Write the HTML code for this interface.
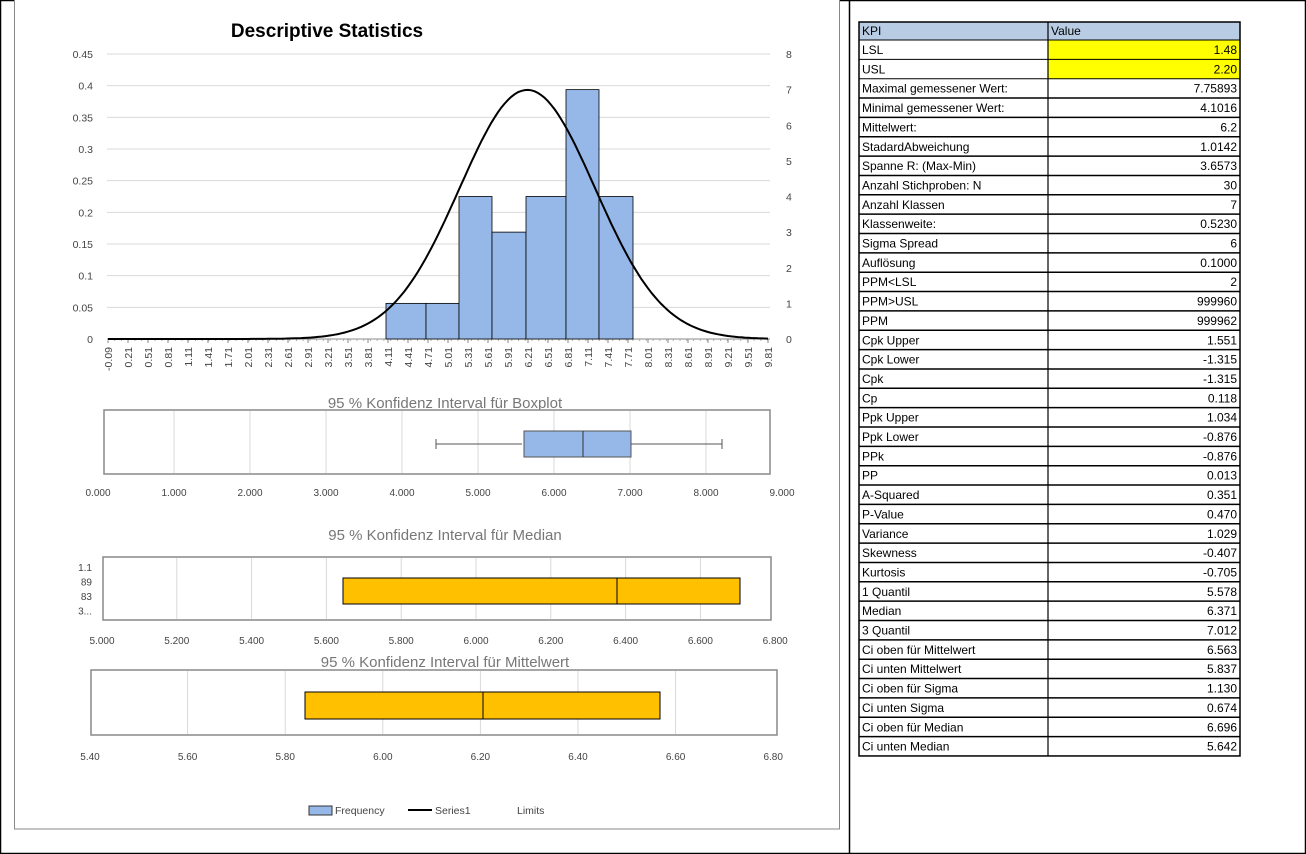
<!DOCTYPE html>
<html><head><meta charset="utf-8">
<style>
body{margin:0;background:#fff;}
svg{display:block;font-family:"Liberation Sans",sans-serif;}
</style></head>
<body>
<svg id="s" width="1306" height="854" xmlns="http://www.w3.org/2000/svg">
<rect x="0.5" y="0.5" width="1305" height="853" fill="#fff" stroke="#000" stroke-width="1.5"/>
<rect x="14.5" y="-2" width="825" height="831" fill="#fff" stroke="#888" stroke-width="1"/>
<line x1="849.5" y1="0" x2="849.5" y2="854" stroke="#000" stroke-width="1.5"/>
<text x="327" y="37" font-size="19" font-weight="bold" text-anchor="middle" fill="#000">Descriptive Statistics</text>
<g id="g"></g>
</svg>
<script>
const g=document.getElementById('g');let h='';
const L=(x1,y1,x2,y2,c,w)=>h+=`<line x1="${x1}" y1="${y1}" x2="${x2}" y2="${y2}" stroke="${c}" stroke-width="${w||1}"/>`;
const T=(x,y,t,o)=>h+=`<text x="${x}" y="${y}" font-size="${o&&o.s||11}" fill="${o&&o.c||'#444'}" text-anchor="${o&&o.a||'middle'}" ${o&&o.t||''}>${t}</text>`;
const R=(x,y,w,hh,f,s,sw)=>h+=`<rect x="${x}" y="${y}" width="${w}" height="${hh}" fill="${f}" stroke="${s||'none'}" stroke-width="${sw||1}"/>`;
// main chart
const y0=339,yt=54,px=285/0.45;
for(let i=0;i<=9;i++){const y=y0-i*31.667;L(107,y,770,y,'#d9d9d9');T(93,y+4,(i*0.05).toFixed(2).replace(/0+$/,'').replace(/\.$/,''),{a:'end',s:10.5});}
for(let i=0;i<=8;i++){const y=y0-i*35.625;T(786,y+4,i,{a:'start',s:10.5});}
L(107,y0,770,y0,'#888');
const xv=v=>108+(v+0.09)/9.9*660;
for(let i=0;i<=33;i++){const v=-0.09+i*0.3,x=xv(v);L(x,y0,x,y0+4,'#888');T(0,0,v.toFixed(2),{s:10.5,a:'end',t:`transform="translate(${x+4},${y0+8}) rotate(-90)"`});}
for(let i=0;i<99;i++){const x=108+i*6.73;L(x,y0,x,y0+2,'#aaa');}
const bars=[[386,426,1],[426,459,1],[459,492,4],[492,526,3],[526,566,4],[566,599,7],[599,633,4]];
bars.forEach(b=>R(b[0],y0-b[2]*35.625,b[1]-b[0],b[2]*35.625,'#95b8e8','#000',0.8));
let p='';for(let v=-0.09;v<=9.82;v+=0.05){const d=Math.exp(-0.5*((v-6.2)/1.0142)**2)/(1.0142*Math.sqrt(2*Math.PI));p+=(p?'L':'M')+xv(v).toFixed(1)+','+(y0-d*px).toFixed(1);}
h+=`<path d="${p}" fill="none" stroke="#000" stroke-width="2"/>`;
// boxplot
T(445,408,'95 % Konfidenz Interval für Boxplot',{s:15,c:'#777'});
R(104,410,666,64,'#fff','#888',1.5);
for(let i=0;i<=9;i++){const x=98+i*76;if(i>0&&i<9)L(x,411,x,473,'#d9d9d9');T(x,496,i.toFixed(3),{s:10});}
L(436,444,522,444,'#555');L(631,444,722,444,'#555');L(436,439,436,449,'#555');L(722,439,722,449,'#555');
R(524,431,107,26,'#95b8e8','#555');L(583,431,583,457,'#333');
// median
T(445,540,'95 % Konfidenz Interval für Median',{s:15,c:'#777'});
R(103,557,668,63,'#fff','#888',1.5);
for(let i=0;i<=9;i++){const x=102+i*74.8;if(i>0&&i<9)L(x,558,x,619,'#d9d9d9');T(x,644,(5+i*0.2).toFixed(3),{s:10});}
['1.1','89','83','3...'].forEach((t,i)=>T(92,571+i*14.5,t,{s:10,a:'end'}));
R(343,578,397,26,'#ffc000','#000');L(617,578,617,604,'#000');
// mean
T(445,667,'95 % Konfidenz Interval für Mittelwert',{s:15,c:'#777'});
R(91,670,686,65,'#fff','#888',1.5);
for(let i=0;i<=7;i++){const x=90+i*97.6;if(i>0&&i<7)L(x,671,x,734,'#d9d9d9');T(x,760,(5.4+i*0.2).toFixed(2),{s:10});}
R(305,692,355,27,'#ffc000','#000');L(483,692,483,719,'#000');
// legend
R(309,806,23,9,'#95b8e8','#333');T(335,814,'Frequency',{a:'start',s:10.5});
L(408,810,432,810,'#000',2);T(435,814,'Series1',{a:'start',s:10.5});
T(517,814,'Limits',{a:'start',s:10.5});
// table
const rows=[['LSL','1.48',1],['USL','2.20',1],['Maximal gemessener Wert:','7.75893'],['Minimal gemessener Wert:','4.1016'],['Mittelwert:','6.2'],['StadardAbweichung','1.0142'],['Spanne R: (Max-Min)','3.6573'],['Anzahl Stichproben: N','30'],['Anzahl Klassen','7'],['Klassenweite:','0.5230'],['Sigma Spread','6'],['Auflösung','0.1000'],['PPM&lt;LSL','2'],['PPM&gt;USL','999960'],['PPM','999962'],['Cpk Upper','1.551'],['Cpk Lower','-1.315'],['Cpk','-1.315'],['Cp','0.118'],['Ppk Upper','1.034'],['Ppk Lower','-0.876'],['PPk','-0.876'],['PP','0.013'],['A-Squared','0.351'],['P-Value','0.470'],['Variance','1.029'],['Skewness','-0.407'],['Kurtosis','-0.705'],['1 Quantil','5.578'],['Median','6.371'],['3 Quantil','7.012'],['Ci oben für Mittelwert','6.563'],['Ci unten Mittelwert','5.837'],['Ci oben für Sigma','1.130'],['Ci unten Sigma','0.674'],['Ci oben für Median','6.696'],['Ci unten Median','5.642']];
R(859,22,381,18,'#b8cce4');T(862,35,'KPI',{a:'start',s:12,c:'#000'});T(1051,35,'Value',{a:'start',s:12,c:'#000'});
const rh=19.35;
rows.forEach((r,i)=>{const y=40+i*rh;if(r[2])R(1048,y,192,rh,'#ffff00');T(862,y+14,r[0],{a:'start',s:12,c:'#000'});T(1237,y+14,r[1],{a:'end',s:12,c:'#000'});L(859,y,1240,y,'#000',i<3?1:1.5);});
const yb=40+rows.length*rh;
h+=`<rect x="859" y="22" width="381" height="${yb-22}" fill="none" stroke="#000" stroke-width="1.5"/>`;
L(1048,22,1048,yb,'#000',1.2);
g.innerHTML=h;
</script>
</body></html>
